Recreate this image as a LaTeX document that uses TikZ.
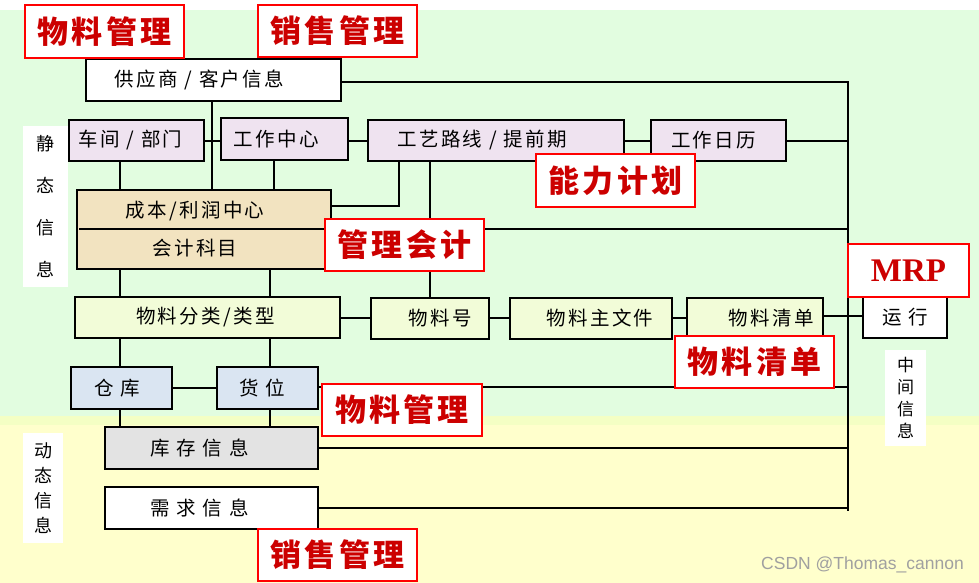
\documentclass[tikz,border=0pt]{standalone}
\usepackage{fontspec}
\newfontfamily\cjk[LetterSpace=12]{Noto Sans CJK SC}
\newfontfamily\cjkr[LetterSpace=10]{Noto Sans CJK SC}
\newfontfamily\cjkv{Noto Sans CJK SC}
\newfontfamily\mrpfont{Liberation Serif}
\newfontfamily\wmfont{Liberation Sans}
\pgfdeclarelayer{back}
\pgfdeclarelayer{wires}
\pgfsetlayers{back,wires,main}
\definecolor{bggreen}{RGB}{226,253,224}
\definecolor{bgyellow}{RGB}{255,255,204}
\definecolor{bgband}{RGB}{244,255,196}
\definecolor{lav}{RGB}{239,227,240}
\definecolor{wheat}{RGB}{242,227,192}
\definecolor{lime}{RGB}{242,252,216}
\definecolor{lblue}{RGB}{218,229,242}
\definecolor{lgray}{RGB}{227,227,227}
\definecolor{lred}{RGB}{255,0,0}
\definecolor{dred}{RGB}{204,0,0}
\definecolor{wmgray}{RGB}{160,160,160}
\newcommand\shft[2]{\hspace*{#1}\hspace*{#1}#2}
\tikzset{
  box/.style={draw=black, line width=1.1pt, inner sep=0pt, text=black,
    font=\cjk\fontsize{19.5}{21}\selectfont},
  redbox/.style={draw=lred, line width=1.2pt, fill=white, inner sep=0pt, text=dred,
    font=\cjkr\bfseries\fontsize{31}{33}\selectfont},
  vlabel/.style={fill=white, inner sep=0pt, align=center, text=black},
  wire/.style={line width=1.1pt, draw=black},
  sz/.style 2 args={minimum width=#1, minimum height=#2}
}
\begin{document}
\begin{tikzpicture}[x=1pt,y=-1pt]
\useasboundingbox (0,0) rectangle (979,583);
\begin{pgfonlayer}{back}
  \fill[white] (0,0) rectangle (979,583);
  \fill[bggreen] (0,10) rectangle (979,416);
  \fill[bgband] (0,416) rectangle (979,425);
  \fill[bgyellow] (0,425) rectangle (979,583);
\end{pgfonlayer}

% black boxes
\node[box, fill=white, sz={255pt}{42pt}] (sup) at (213.5,80) {\shft{-14pt}{供应商 / 客户信息}};
\node[vlabel, sz={45pt}{161pt}, font=\cjkv\fontsize{18}{42}\selectfont] (stat) at (45.5,206.5) {静\\态\\信\\息};
\node[box, fill=lav, sz={135pt}{41pt}] (ws) at (136.5,140.5) {\shft{-6pt}{车间 / 部门}};
\node[box, fill=lav, sz={127pt}{42pt}] (wc) at (284.5,139) {\shft{-8pt}{工作中心}};
\node[box, fill=lav, sz={256pt}{41pt}] (rt) at (496,140.5) {\shft{-14pt}{工艺路线 / 提前期}};
\node[box, fill=lav, sz={135pt}{41pt}] (cal) at (718.5,140.5) {\shft{-5pt}{工作日历}};
\node[box, fill=wheat, sz={254pt}{79pt}, align=center,
  font=\cjk\fontsize{19.5}{38}\selectfont] (cost) at (204,229.5) {\shft{-9pt}{成本/利润中心}\\\shft{-9pt}{会计科目}};
\node[box, fill=lime, sz={265pt}{41pt}] (cls) at (207.5,317.5) {\shft{-2pt}{物料分类/类型}};
\node[box, fill=lime, sz={118pt}{41pt}] (num) at (430,318.5) {\shft{10pt}{物料号}};
\node[box, fill=lime, sz={162pt}{41pt}] (mst) at (591,318.5) {\shft{9pt}{物料主文件}};
\node[box, fill=lime, sz={136pt}{41pt}] (bom) at (755,318.5) {\shft{16pt}{物料清单}};
\node[box, fill=white, sz={84pt}{41pt}] (run) at (905,317.5) {运 行};
\node[vlabel, sz={41pt}{96pt}, font=\cjkv\fontsize{17}{22}\selectfont] (mid) at (905.5,398) {中\\间\\信\\息};
\node[box, fill=lblue, sz={101pt}{42pt}] (wh) at (121.5,388) {\shft{-4pt}{仓 库}};
\node[box, fill=lblue, sz={101pt}{42pt}] (loc) at (267.5,388) {\shft{-5pt}{货 位}};
\node[box, fill=lgray, sz={213pt}{42pt}] (inv) at (211.5,448) {\shft{-12pt}{库 存 信 息}};
\node[box, fill=white, sz={213pt}{42pt}] (dem) at (211.5,508) {\shft{-12pt}{需 求 信 息}};
\node[vlabel, sz={40pt}{110pt}, font=\cjkv\fontsize{18}{25}\selectfont] (dyn) at (43,488) {动\\态\\信\\息};

\coordinate (bt) at (848,82);
\coordinate (bb) at (848,511);

% divider of the cost box, continued to the bus
\draw[wire] ([xshift=3pt]cost.west |- 0,229) -- (bt |- 0,229);

\begin{pgfonlayer}{wires}
  \draw[wire] (sup.east |- bt) -- (bt) -- (bb);
  \draw[wire] (212,0 |- sup.south) -- (212,0 |- cost.north);
  \draw[wire] (ws.east |- 0,141) -- (wc.west |- 0,141);
  \draw[wire] (wc.east |- 0,141) -- (rt.west |- 0,141);
  \draw[wire] (rt.east |- 0,141) -- (cal.west |- 0,141);
  \draw[wire] (cal.east |- 0,141) -- (bt |- 0,141);
  \draw[wire] (120,0 |- ws.south) -- (120,0 |- cost.north);
  \draw[wire] (274,0 |- wc.south) -- (274,0 |- cost.north);
  \draw[wire] (399,0 |- rt.south) -- (399,206) -- (cost.east |- 0,206);
  \draw[wire] (430,0 |- rt.south) -- (430,0 |- num.north);
  \draw[wire] (120,0 |- cost.south) -- (120,0 |- cls.north);
  \draw[wire] (270,0 |- cost.south) -- (270,0 |- cls.north);
  \draw[wire] (cls.east |- 0,318) -- (num.west |- 0,318);
  \draw[wire] (num.east |- 0,318) -- (mst.west |- 0,318);
  \draw[wire] (mst.east |- 0,318) -- (bom.west |- 0,318);
  \draw[wire] (bom.east |- 0,316) -- (run.west |- 0,316);
  \draw[wire] (120,0 |- cls.south) -- (120,0 |- wh.north);
  \draw[wire] (270,0 |- cls.south) -- (270,0 |- loc.north);
  \draw[wire] (wh.east |- 0,388) -- (loc.west |- 0,388);
  \draw[wire] (loc.east |- 0,387) -- (bt |- 0,387);
  \draw[wire] (120,0 |- wh.south) -- (120,0 |- inv.north);
  \draw[wire] (270,0 |- loc.south) -- (270,0 |- inv.north);
  \draw[wire] (inv.east) -- (inv.east -| bt);
  \draw[wire] (dem.east) -- (dem.east -| bt);
\end{pgfonlayer}

% red labels
\node[redbox, sz={159pt}{53pt}] (r1) at (104.5,31.5) {物料管理};
\node[redbox, sz={159pt}{52pt}] (r2) at (337.5,31) {销售管理};
\node[redbox, sz={159pt}{53pt}] (r3) at (615.5,180.5) {能力计划};
\node[redbox, sz={159pt}{52pt}] (r4) at (404.5,245) {管理会计};
\node[redbox, sz={121pt}{53pt}, font=\mrpfont\bfseries\fontsize{33}{34}\selectfont] (r5) at (908.5,270.5) {MRP};
\node[redbox, sz={159pt}{52pt}] (r6) at (754.5,362) {物料清单};
\node[redbox, sz={160pt}{52pt}] (r7) at (402,410) {物料管理};
\node[redbox, sz={159pt}{52pt}] (r8) at (337.5,555) {销售管理};

\node[anchor=east, inner sep=0pt, text=wmgray, font=\wmfont\fontsize{17.5}{18}\selectfont] (wm) at (964,565) {CSDN @Thomas\_cannon};
\end{tikzpicture}
\end{document}
